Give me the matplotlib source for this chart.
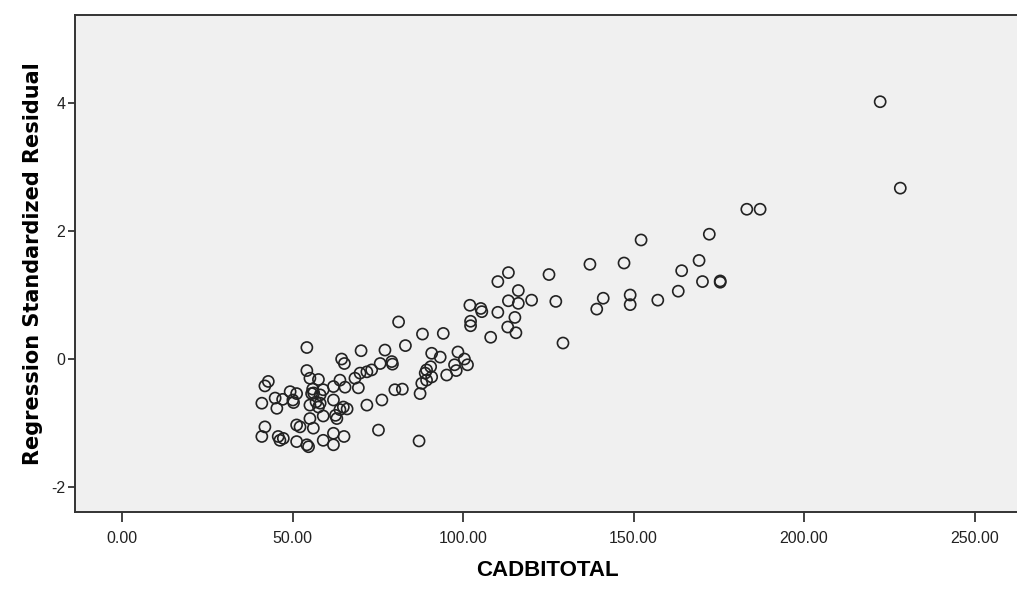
#scatter of standardized residuals vs CADBITOTAL
import numpy as np
import matplotlib.pyplot as plt

#points, grouped by region
upper_x = [222.3, 228.2, 183.2, 187.1, 172.2, 152.2, 169.2, 164.1, 147.2, 137.2,
           170.2, 175.4, 175.4, 163.1, 157.1, 149.0, 149.0, 141.1, 139.2, 129.3,
           127.2, 125.2, 120.1, 116.2, 116.2, 113.3, 110.2, 113.3, 110.2, 115.2,
           113.1, 115.5, 108.1, 105.2, 105.5, 102.0, 102.2, 102.2, 100.4, 101.3,
           98.5, 97.5, 98.0, 95.2]
upper_y = [4.02, 2.67, 2.34, 2.34, 1.95, 1.86, 1.54, 1.38, 1.50, 1.48,
           1.21, 1.22, 1.20, 1.06, 0.92, 1.00, 0.85, 0.95, 0.78, 0.25,
           0.90, 1.32, 0.92, 1.07, 0.87, 1.35, 1.21, 0.91, 0.73, 0.65,
           0.50, 0.41, 0.34, 0.79, 0.74, 0.84, 0.59, 0.52, 0.00, -0.09,
           0.11, -0.09, -0.18, -0.25]

mid_x = [94.2, 88.1, 83.1, 81.1, 93.3, 90.8, 90.5, 89.3, 88.9, 90.8,
         89.3, 87.9, 87.4, 87.1, 82.2, 80.0]
mid_y = [0.40, 0.39, 0.21, 0.58, 0.03, 0.09, -0.12, -0.17, -0.22, -0.28,
         -0.33, -0.38, -0.54, -1.28, -0.47, -0.48]

low_x = [79.1, 79.3, 75.7, 77.1, 76.2, 75.2, 73.2, 71.8, 69.8, 70.1,
         68.3, 71.8, 69.3, 65.2, 64.4, 63.9, 65.4, 62.0, 62.0, 64.9,
         63.9, 66.0, 63.0, 62.6, 59.0, 62.0, 65.1, 62.0, 59.0, 59.0,
         58.1, 55.9, 55.6, 56.9, 55.1, 57.6, 58.1, 57.6, 55.1, 54.2,
         54.2, 56.2, 55.1, 56.1, 54.2, 54.7, 52.2, 51.2, 51.2, 51.2,
         49.3, 50.1, 50.3, 47.1, 47.3, 46.3, 45.8, 45.4, 44.9, 42.9,
         41.9, 41.9, 41.0, 41.0]
low_y = [-0.04, -0.08, -0.07, 0.14, -0.64, -1.11, -0.17, -0.20, -0.22, 0.13,
         -0.30, -0.72, -0.45, -0.07, 0.00, -0.33, -0.44, -0.43, -0.64, -0.75,
         -0.79, -0.78, -0.93, -0.88, -0.89, -1.16, -1.21, -1.34, -1.27, -0.48,
         -0.56, -0.47, -0.54, -0.67, -0.72, -0.75, -0.69, -0.32, -0.30, 0.18,
         -0.18, -0.53, -0.93, -1.08, -1.34, -1.37, -1.06, -1.03, -1.29, -0.54,
         -0.51, -0.64, -0.68, -0.63, -1.24, -1.27, -1.21, -0.77, -0.61, -0.35,
         -0.42, -1.06, -1.21, -0.69]

x = np.array(upper_x + mid_x + low_x)
y = np.array(upper_y + mid_y + low_y)

font = ['Liberation Sans', 'DejaVu Sans']

fig = plt.figure(figsize=(10.17, 5.90), dpi=100)
ax = fig.add_axes([75 / 1017, 78 / 590, 945 / 1017, 497 / 590])
ax.set_facecolor('#f0f0f0')

ax.scatter(x, y, s=64, facecolors='none', edgecolors='#222222', linewidths=1.2)

ax.set_xlim(-13.78, 263.3)
ax.set_ylim(-2.39, 5.375)
ax.set_xticks([0, 50, 100, 150, 200, 250])
ax.set_xticklabels([f'{v:.2f}' for v in [0, 50, 100, 150, 200, 250]])
ax.set_yticks([-2, 0, 2, 4])
ax.set_yticklabels(['-2', '0', '2', '4'])

for lbl in ax.get_xticklabels() + ax.get_yticklabels():
    lbl.set_family(font)
    lbl.set_fontsize(11.5)

ax.tick_params(axis='x', length=7, width=1.2, pad=7, colors='#222222')
ax.tick_params(axis='y', length=5, width=1.2, pad=2, colors='#222222')

for s in ax.spines.values():
    s.set_color('#333333')
    s.set_linewidth(1.4)

ax.set_xlabel('CADBITOTAL', fontsize=16, fontweight='bold',
              family=font, labelpad=10)
ax.set_ylabel('Regression Standardized Residual', fontsize=15,
              fontweight='bold', family=['DejaVu Sans'], labelpad=6)

fig.savefig('out.png', dpi=100)
